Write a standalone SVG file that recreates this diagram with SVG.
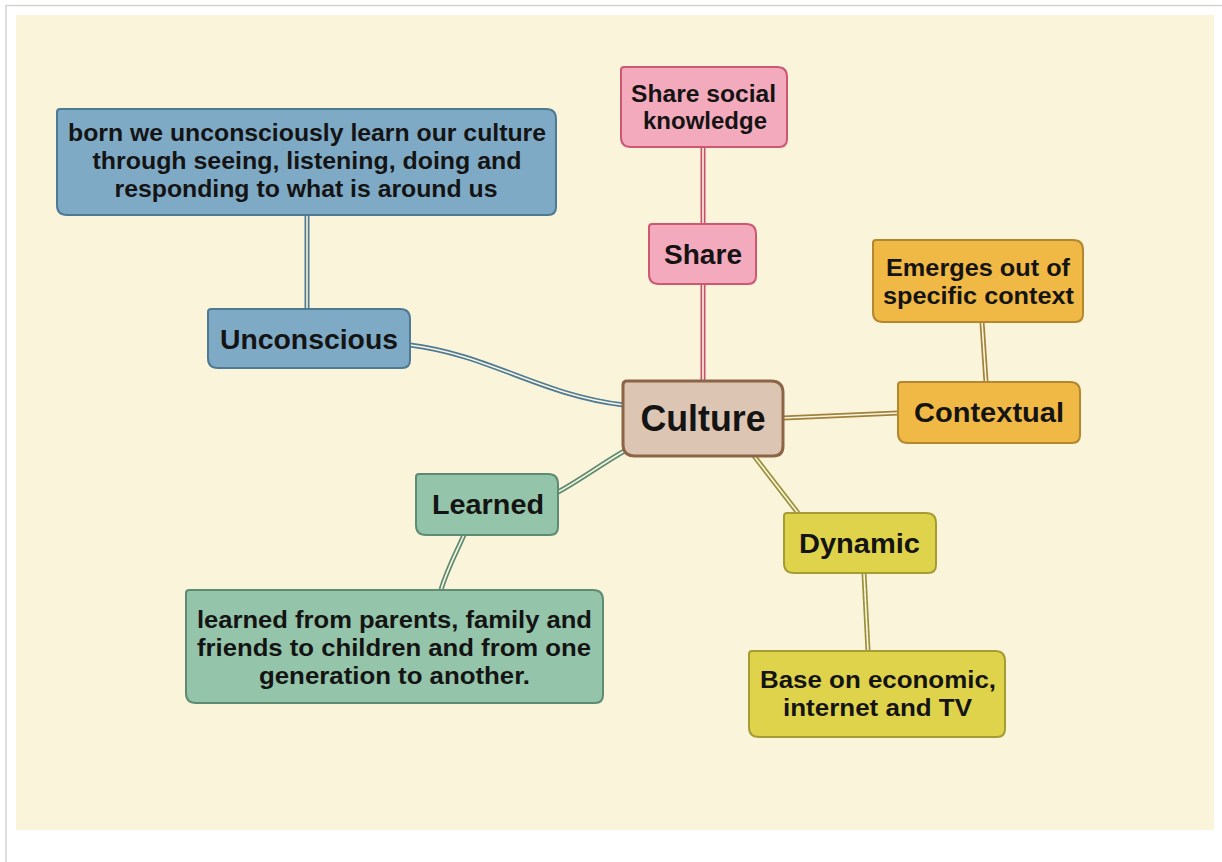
<svg xmlns="http://www.w3.org/2000/svg" width="1222" height="862" viewBox="0 0 1222 862">
<style>
text{font-family:"Liberation Sans",Arial,sans-serif;font-weight:bold;fill:#141414;text-anchor:middle}
.s{font-size:23px}
.m{font-size:27px}
.l{font-size:36px}
.c{fill:none;stroke-linecap:butt}
.in{fill:none;stroke:#FBF5E0;stroke-width:1.6}
</style>
<rect x="0" y="0" width="1222" height="862" fill="#ffffff"/>
<path d="M6 862 V5.5 H1222" fill="none" stroke="#d4d4d4" stroke-width="1.5"/>
<rect x="16" y="15" width="1198" height="815" fill="#FAF4DA"/>

<g id="connectors">
  <g stroke="#4E7A94">
    <path class="c" d="M307 215 V310" stroke-width="5"/>
    <path class="c" d="M410 345 C490 355 540 395 624 405" stroke-width="5"/>
  </g>
  <path class="in" d="M307 215 V310"/>
  <path class="in" d="M410 345 C490 355 540 395 624 405"/>
  <g stroke="#C9506F">
    <path class="c" d="M703 147 V224" stroke-width="5"/>
    <path class="c" d="M703 284 V381" stroke-width="5"/>
  </g>
  <path class="in" d="M703 147 V224"/>
  <path class="in" d="M703 284 V381"/>
  <g stroke="#A0813C">
    <path class="c" d="M783 418 L898 413" stroke-width="5"/>
    <path class="c" d="M982 322 L986 382" stroke-width="5"/>
  </g>
  <path class="in" d="M783 418 L898 413"/>
  <path class="in" d="M982 322 L986 382"/>
  <g stroke="#99913A">
    <path class="c" d="M754 456 L798 513" stroke-width="5"/>
    <path class="c" d="M864 573 L868 651" stroke-width="5"/>
  </g>
  <path class="in" d="M754 456 L798 513"/>
  <path class="in" d="M864 573 L868 651"/>
  <g stroke="#5E8C72">
    <path class="c" d="M626 450 C600 465 580 480 558 492" stroke-width="5"/>
    <path class="c" d="M464 535 C455 555 446 572 441 590" stroke-width="5"/>
  </g>
  <path class="in" d="M626 450 C600 465 580 480 558 492"/>
  <path class="in" d="M464 535 C455 555 446 572 441 590"/>
</g>

<g id="n-born">
  <path d="M60 109 H546 Q556 109 556 119 V207 Q556 215 548 215 H67 Q57 215 57 205 V112 Q57 109 60 109 Z" fill="#7FAAC6" stroke="#4E7A94" stroke-width="2"/>
  <text class="s" x="307" y="141" textLength="478" lengthAdjust="spacingAndGlyphs">born we unconsciously learn our culture</text>
  <text class="s" x="307" y="169" textLength="429" lengthAdjust="spacingAndGlyphs">through seeing, listening, doing and</text>
  <text class="s" x="306" y="197" textLength="383" lengthAdjust="spacingAndGlyphs">responding to what is around us</text>
</g>
<g id="n-unconscious">
  <path d="M211 309 H400 Q410 309 410 319 V360 Q410 368 402 368 H218 Q208 368 208 358 V312 Q208 309 211 309 Z" fill="#7FAAC6" stroke="#4E7A94" stroke-width="2"/>
  <text class="m" x="309" y="349" textLength="178" lengthAdjust="spacingAndGlyphs">Unconscious</text>
</g>
<g id="n-culture">
  <path d="M627 381 H771 Q783 381 783 393 V446 Q783 456 773 456 H635 Q623 456 623 444 V385 Q623 381 627 381 Z" fill="#DCC5B3" stroke="#8C6446" stroke-width="3"/>
  <text class="l" x="703" y="431" textLength="125" lengthAdjust="spacingAndGlyphs">Culture</text>
</g>
<g id="n-sharesocial">
  <path d="M624 67 H777 Q787 67 787 77 V139 Q787 147 779 147 H631 Q621 147 621 137 V70 Q621 67 624 67 Z" fill="#F4AABD" stroke="#CC5874" stroke-width="2"/>
  <text class="s" x="703.5" y="102" textLength="145" lengthAdjust="spacingAndGlyphs">Share social</text>
  <text class="s" x="705" y="129" textLength="124" lengthAdjust="spacingAndGlyphs">knowledge</text>
</g>
<g id="n-share">
  <path d="M652 224 H746 Q756 224 756 234 V276 Q756 284 748 284 H659 Q649 284 649 274 V227 Q649 224 652 224 Z" fill="#F4AABD" stroke="#CC5874" stroke-width="2"/>
  <text class="m" x="703" y="264" textLength="78" lengthAdjust="spacingAndGlyphs">Share</text>
</g>
<g id="n-emerges">
  <path d="M876 240 H1073 Q1083 240 1083 250 V314 Q1083 322 1075 322 H883 Q873 322 873 312 V243 Q873 240 876 240 Z" fill="#F0B845" stroke="#B38630" stroke-width="2"/>
  <text class="s" x="978" y="276" textLength="184" lengthAdjust="spacingAndGlyphs">Emerges out of</text>
  <text class="s" x="978.5" y="304" textLength="191" lengthAdjust="spacingAndGlyphs">specific context</text>
</g>
<g id="n-contextual">
  <path d="M901 382 H1070 Q1080 382 1080 392 V435 Q1080 443 1072 443 H908 Q898 443 898 433 V385 Q898 382 901 382 Z" fill="#F0B845" stroke="#B38630" stroke-width="2"/>
  <text class="m" x="989" y="422" textLength="150" lengthAdjust="spacingAndGlyphs">Contextual</text>
</g>
<g id="n-dynamic">
  <path d="M787 513 H926 Q936 513 936 523 V565 Q936 573 928 573 H794 Q784 573 784 563 V516 Q784 513 787 513 Z" fill="#E0D34C" stroke="#A59D34" stroke-width="2"/>
  <text class="m" x="859.5" y="553" textLength="121" lengthAdjust="spacingAndGlyphs">Dynamic</text>
</g>
<g id="n-base">
  <path d="M752 651 H995 Q1005 651 1005 661 V729 Q1005 737 997 737 H759 Q749 737 749 727 V654 Q749 651 752 651 Z" fill="#E0D34C" stroke="#A59D34" stroke-width="2"/>
  <text class="s" x="878" y="688" textLength="236" lengthAdjust="spacingAndGlyphs">Base on economic,</text>
  <text class="s" x="877.5" y="716" textLength="189" lengthAdjust="spacingAndGlyphs">internet and TV</text>
</g>
<g id="n-learned">
  <path d="M419 474 H548 Q558 474 558 484 V527 Q558 535 550 535 H426 Q416 535 416 525 V477 Q416 474 419 474 Z" fill="#94C4A9" stroke="#5E8C72" stroke-width="2"/>
  <text class="m" x="488" y="514" textLength="112" lengthAdjust="spacingAndGlyphs">Learned</text>
</g>
<g id="n-learnedfrom">
  <path d="M189 590 H593 Q603 590 603 600 V695 Q603 703 595 703 H196 Q186 703 186 693 V593 Q186 590 189 590 Z" fill="#94C4A9" stroke="#5E8C72" stroke-width="2"/>
  <text class="s" x="394.5" y="628" textLength="395" lengthAdjust="spacingAndGlyphs">learned from parents, family and</text>
  <text class="s" x="394" y="656" textLength="394" lengthAdjust="spacingAndGlyphs">friends to children and from one</text>
  <text class="s" x="394.5" y="684" textLength="271" lengthAdjust="spacingAndGlyphs">generation to another.</text>
</g>
</svg>
